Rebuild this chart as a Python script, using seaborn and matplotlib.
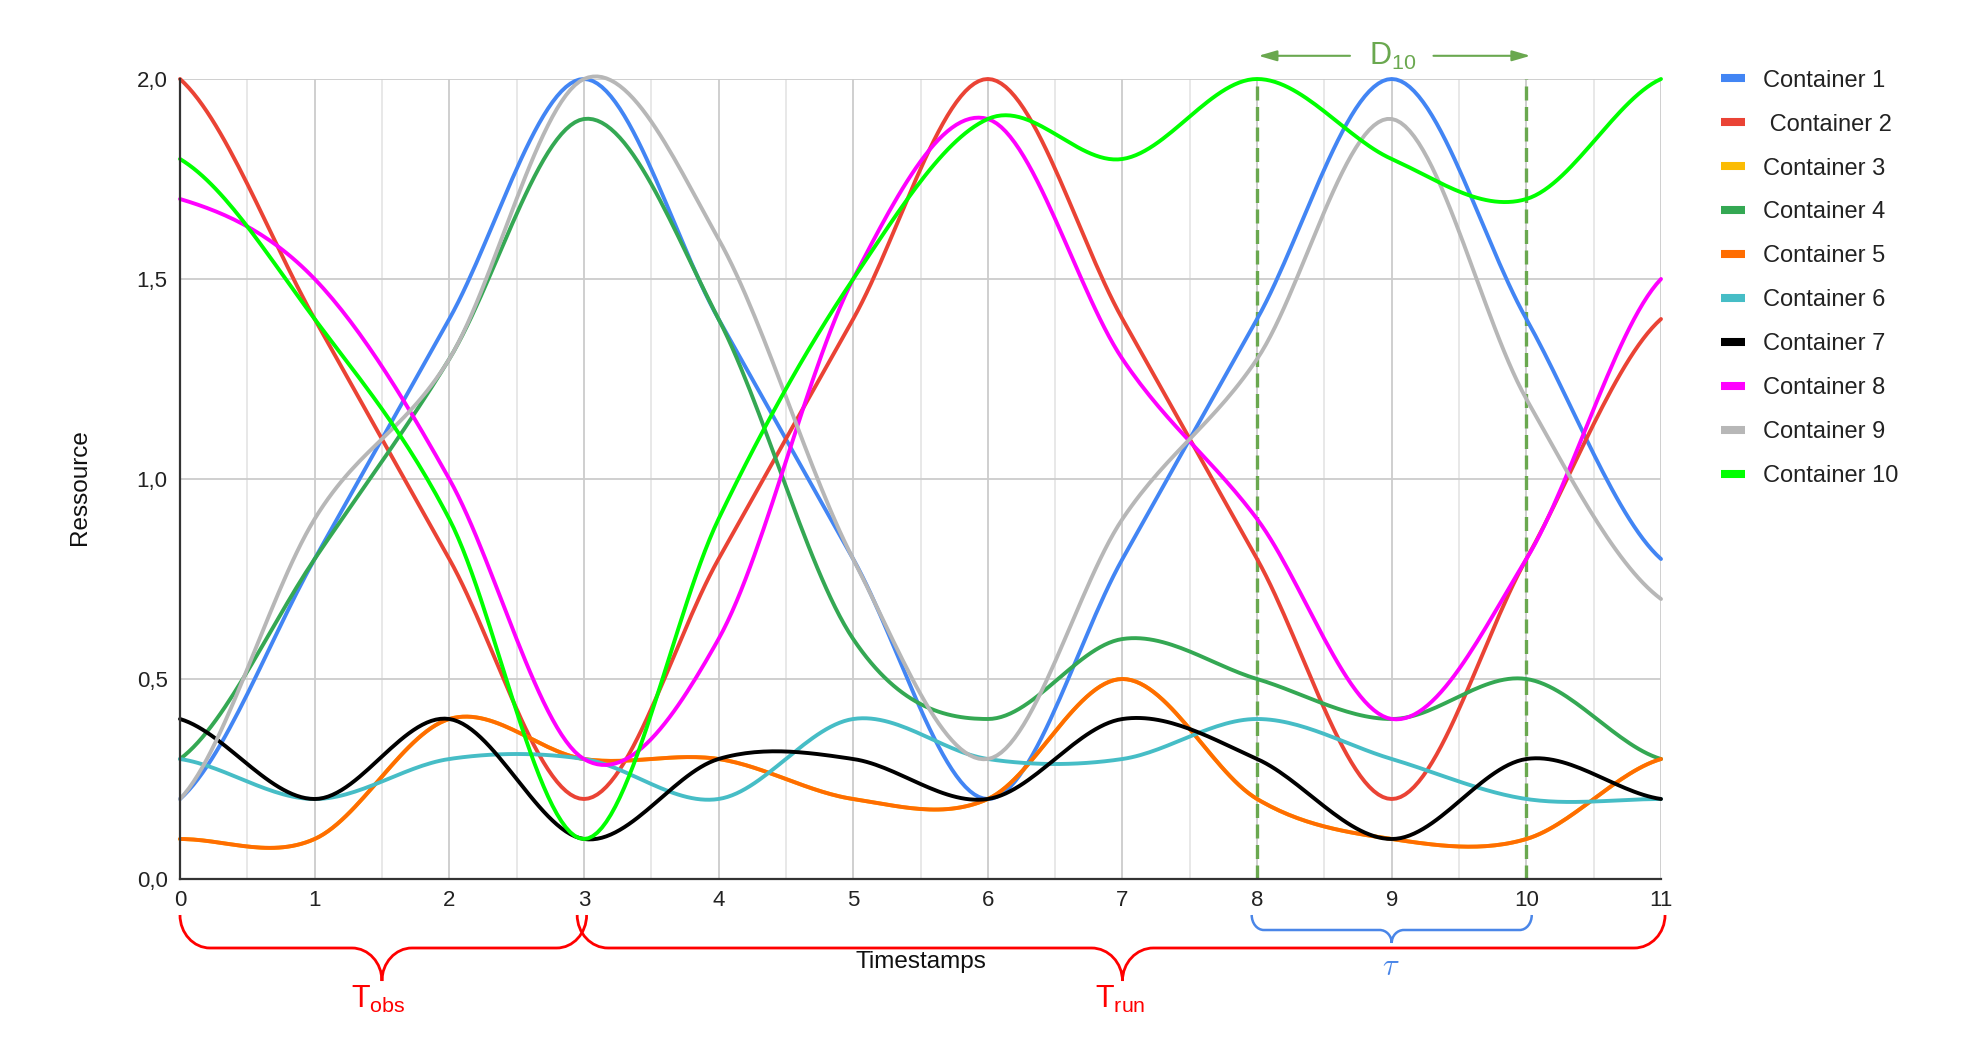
import numpy as np
import pandas as pd
import matplotlib
matplotlib.use("Agg")
import matplotlib.pyplot as plt
from matplotlib.path import Path
from matplotlib.patches import PathPatch
from matplotlib.ticker import MultipleLocator
import seaborn as sns

# values read at each timestamp
timestamps = list(range(12))
container_1 = [0.2, 0.8, 1.4, 2.0, 1.4, 0.8, 0.2, 0.8, 1.4, 2.0, 1.4, 0.8]
container_2 = [2.0, 1.4, 0.8, 0.2, 0.8, 1.4, 2.0, 1.4, 0.8, 0.2, 0.8, 1.4]
container_3 = [0.1, 0.1, 0.4, 0.3, 0.3, 0.2, 0.2, 0.5, 0.2, 0.1, 0.1, 0.3]
container_4 = [0.3, 0.8, 1.3, 1.9, 1.4, 0.6, 0.4, 0.6, 0.5, 0.4, 0.5, 0.3]
container_5 = [0.1, 0.1, 0.4, 0.3, 0.3, 0.2, 0.2, 0.5, 0.2, 0.1, 0.1, 0.3]
container_6 = [0.3, 0.2, 0.3, 0.3, 0.2, 0.4, 0.3, 0.3, 0.4, 0.3, 0.2, 0.2]
container_7 = [0.4, 0.2, 0.4, 0.1, 0.3, 0.3, 0.2, 0.4, 0.3, 0.1, 0.3, 0.2]
container_8 = [1.7, 1.5, 1.0, 0.3, 0.6, 1.5, 1.9, 1.3, 0.9, 0.4, 0.8, 1.5]
container_9 = [0.2, 0.9, 1.3, 2.0, 1.6, 0.8, 0.3, 0.9, 1.3, 1.9, 1.2, 0.7]
container_10 = [1.8, 1.4, 0.9, 0.1, 0.9, 1.5, 1.9, 1.8, 2.0, 1.8, 1.7, 2.0]

names = ["Container 1", " Container 2", "Container 3", "Container 4", "Container 5",
         "Container 6", "Container 7", "Container 8", "Container 9", "Container 10"]
series = [container_1, container_2, container_3, container_4, container_5,
          container_6, container_7, container_8, container_9, container_10]
colors = ["#4285f4", "#ea4335", "#fbbc04", "#34a853", "#ff6d01",
          "#46bdc6", "#000000", "#ff00ff", "#b7b7b7", "#00ff00"]

ytick_values = [0.0, 0.5, 1.0, 1.5, 2.0]
ytick_labels = ["0,0", "0,5", "1,0", "1,5", "2,0"]
window_start, window_end = 8, 10


def smooth_curve(xs, ys, steps=30):
    """Catmull-Rom style smoothing (like the sheet's smooth line option)"""
    xs = np.asarray(xs, float)
    ys = np.asarray(ys, float)
    m = np.empty_like(ys)
    m[1:-1] = (ys[2:] - ys[:-2]) / 2
    m[0] = (ys[1] - ys[0]) / 2
    m[-1] = (ys[-1] - ys[-2]) / 2
    t = np.linspace(0, 1, steps, endpoint=False)
    h00 = 2 * t**3 - 3 * t**2 + 1
    h10 = t**3 - 2 * t**2 + t
    h01 = -2 * t**3 + 3 * t**2
    h11 = t**3 - t**2
    out_x, out_y = [], []
    for i in range(len(xs) - 1):
        dx = xs[i + 1] - xs[i]
        out_x.extend(xs[i] + t * dx)
        out_y.extend(h00 * ys[i] + h10 * m[i] * dx + h01 * ys[i + 1] + h11 * m[i + 1] * dx)
    out_x.append(xs[-1])
    out_y.append(ys[-1])
    return out_x, out_y


def brace(ax, x0, x1, xtip, ytop, yh, ytip, rx, color, lw):
    """Curly brace opening upwards, tip pointing down"""
    k = 0.5523
    ry = yh - ytop
    ry2 = ytip - yh
    verts = [(x0, ytop),
             (x0, ytop + k * ry), (x0 + rx * (1 - k), yh), (x0 + rx, yh),
             (xtip - rx, yh),
             (xtip - rx * (1 - k), yh), (xtip, yh + ry2 * (1 - k)), (xtip, ytip),
             (xtip, yh + ry2 * (1 - k)), (xtip + rx * (1 - k), yh), (xtip + rx, yh),
             (x1 - rx, yh),
             (x1 - rx * (1 - k), yh), (x1, ytop + k * ry), (x1, ytop)]
    codes = [Path.MOVETO, Path.CURVE4, Path.CURVE4, Path.CURVE4, Path.LINETO,
             Path.CURVE4, Path.CURVE4, Path.CURVE4, Path.CURVE4, Path.CURVE4, Path.CURVE4,
             Path.LINETO, Path.CURVE4, Path.CURVE4, Path.CURVE4]
    ax.add_patch(PathPatch(Path(verts, codes), facecolor="none", edgecolor=color,
                           lw=lw, clip_on=False))


sns.set_style("white")
plt.rcParams["font.family"] = ["Liberation Sans", "DejaVu Sans"]
plt.rcParams["mathtext.fontset"] = "cm"

frames = []
for name, vals in zip(names, series):
    sx, sy = smooth_curve(timestamps, vals)
    frames.append(pd.DataFrame({"Timestamps": sx, "Ressource": sy, "Container": name}))
df = pd.concat(frames, ignore_index=True)

fig = plt.figure(figsize=(19.64, 10.39), dpi=100)
ax = fig.add_axes([180 / 1964, 1 - 879 / 1039, 1481 / 1964, 800 / 1039])

sns.lineplot(data=df, x="Timestamps", y="Ressource", hue="Container", hue_order=names,
             palette=dict(zip(names, colors)), linewidth=2.8, sort=False,
             estimator=None, ax=ax)
for line in ax.get_lines():
    line.set_clip_on(False)

ax.set_xlim(0, 11)
ax.set_ylim(0, 2)
ax.set_xticks(timestamps)
ax.set_yticks(ytick_values)
ax.set_yticklabels(ytick_labels)
ax.xaxis.set_minor_locator(MultipleLocator(0.5))
ax.tick_params(axis="both", which="both", length=0, labelsize=16, colors="#222222")
ax.tick_params(axis="x", pad=8)
ax.tick_params(axis="y", pad=9)
ax.set_axisbelow(True)
ax.grid(which="major", color="#cccccc", lw=1.3)
ax.grid(which="minor", axis="x", color="#e6e6e6", lw=1.3)
for side in ["top", "right"]:
    ax.spines[side].set_visible(False)
for side in ["left", "bottom"]:
    ax.spines[side].set_color("#333333")
    ax.spines[side].set_linewidth(1.6)

ax.set_xlabel("Timestamps", fontsize=17.5, color="#111111")
ax.set_ylabel("Ressource", fontsize=17.5, color="#111111")
ax.xaxis.set_label_coords(0.5, -0.09)
ax.yaxis.set_label_coords(-0.06, 0.49)

# window D10 between timestamps 8 and 10
green = "#6aa84f"
for xv in [window_start, window_end]:
    ax.axvline(xv, color=green, lw=2.4, dashes=(4.2, 1.95), zorder=1.5)
arrow_style = dict(arrowstyle="-|>,head_length=1.1,head_width=0.32", color=green,
                   lw=1.5, shrinkA=0, shrinkB=0)
ax.annotate("", xy=(8.01, 2.058), xytext=(8.69, 2.058), arrowprops=arrow_style,
            annotation_clip=False)
ax.annotate("", xy=(10.03, 2.058), xytext=(9.31, 2.058), arrowprops=arrow_style,
            annotation_clip=False)
ax.text(9.01, 2.056, r"$\mathregular{D_{10}}$", color=green, fontsize=22,
        ha="center", va="center", clip_on=False)

# braces under the time axis
red = "#ff0000"
brace(ax, 0.0, 3.02, 1.5, -0.09, -0.1725, -0.255, 0.223, red, 2.0)
brace(ax, 2.95, 11.03, 7.0, -0.09, -0.1725, -0.255, 0.23, red, 2.0)
brace(ax, 7.96, 10.04, 9.0, -0.09, -0.1275, -0.16, 0.09, "#4a86e8", 1.8)
ax.text(1.47, -0.262, r"$\mathregular{T_{obs}}$", color=red, fontsize=22,
        ha="center", va="top", clip_on=False)
ax.text(6.98, -0.262, r"$\mathregular{T_{run}}$", color=red, fontsize=22,
        ha="center", va="top", clip_on=False)
ax.text(8.99, -0.221, r"$\tau$", color="#4a86e8", fontsize=22,
        ha="center", va="center", clip_on=False)

handles, labels = ax.get_legend_handles_labels()
leg = ax.legend(handles, labels, loc="upper left", bbox_to_anchor=(1721 / 1964, 0.933),
                bbox_transform=fig.transFigure, frameon=False, fontsize=17,
                handlelength=1.02, handletextpad=0.75, labelspacing=0.93, borderpad=0,
                borderaxespad=0)
for lh in leg.get_lines():
    lh.set_linewidth(5.8)
    lh.set_solid_capstyle("butt")
for txt in leg.get_texts():
    txt.set_color("#222222")

fig.savefig("out.png", dpi=100, facecolor="white")
